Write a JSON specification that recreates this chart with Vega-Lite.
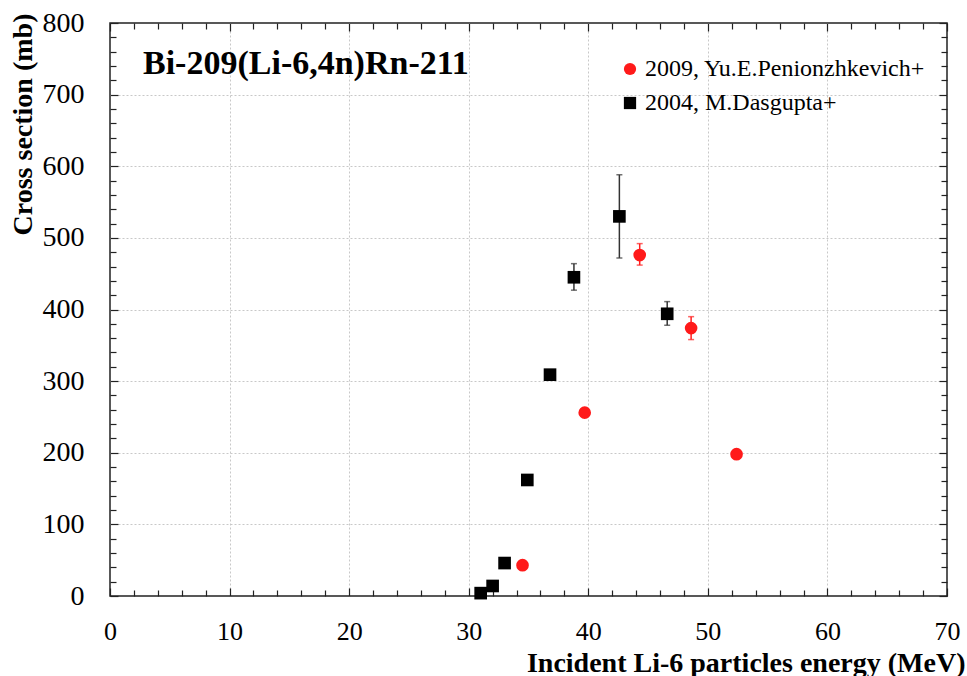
{
  "$schema": "https://vega.github.io/schema/vega-lite/v6.json",
  "width": 837,
  "height": 573,
  "autosize": {"type": "none"},
  "padding": {"left": 110, "top": 23, "right": 20, "bottom": 80},
  "background": "white",
  "config": {
    "view": {"stroke": "#222", "strokeWidth": 1.5},
    "font": "Liberation Serif",
    "axis": {"labelFont": "Liberation Serif", "titleFont": "Liberation Serif", "labelColor": "black", "titleColor": "black", "domain": false, "tickColor": "#222", "tickWidth": 1.2}
  },
  "title": {"text": "Bi-209(Li-6,4n)Rn-211", "orient": "top", "anchor": "start", "frame": "group", "offset": -99, "baseline": "alphabetic", "dx": 33, "font": "Liberation Serif", "fontSize": 34, "fontWeight": "bold", "color": "black"},
  "data": {
    "values": [
      {"series": "2009, Yu.E.Penionzhkevich+", "energy": 34.5, "xs": 43, "lo": null, "hi": null},
      {"series": "2009, Yu.E.Penionzhkevich+", "energy": 39.7, "xs": 256, "lo": null, "hi": null},
      {"series": "2009, Yu.E.Penionzhkevich+", "energy": 44.3, "xs": 476, "lo": 462, "hi": 492},
      {"series": "2009, Yu.E.Penionzhkevich+", "energy": 48.6, "xs": 374, "lo": 358, "hi": 390},
      {"series": "2009, Yu.E.Penionzhkevich+", "energy": 52.4, "xs": 198, "lo": null, "hi": null},
      {"series": "2004, M.Dasgupta+", "energy": 31.0, "xs": 4, "lo": null, "hi": null},
      {"series": "2004, M.Dasgupta+", "energy": 32.0, "xs": 14, "lo": null, "hi": null},
      {"series": "2004, M.Dasgupta+", "energy": 33.0, "xs": 46, "lo": null, "hi": null},
      {"series": "2004, M.Dasgupta+", "energy": 34.9, "xs": 162, "lo": null, "hi": null},
      {"series": "2004, M.Dasgupta+", "energy": 36.8, "xs": 309, "lo": null, "hi": null},
      {"series": "2004, M.Dasgupta+", "energy": 38.8, "xs": 445, "lo": 427, "hi": 464},
      {"series": "2004, M.Dasgupta+", "energy": 42.6, "xs": 530, "lo": 472, "hi": 588},
      {"series": "2004, M.Dasgupta+", "energy": 46.6, "xs": 394, "lo": 378, "hi": 411}
    ]
  },
  "layer": [
    {
      "transform": [{"filter": "isValid(datum.lo)"}],
      "mark": {"type": "rule", "strokeWidth": 1.5},
      "encoding": {
        "x": {"field": "energy", "type": "quantitative", "scale": {"domain": [0, 70], "nice": false},
          "axis": {"orient": "top", "title": null, "labels": false, "grid": false,
            "values": [0,2,4,6,8,10,12,14,16,18,20,22,24,26,28,30,32,34,36,38,40,42,44,46,48,50,52,54,56,58,60,62,64,66,68,70],
            "tickSize": {"condition": {"test": "datum.value % 10 === 0", "value": -8}, "value": -6}}},
        "y": {"field": "lo", "type": "quantitative", "scale": {"domain": [0, 800], "nice": false},
          "axis": {"orient": "right", "title": null, "labels": false, "grid": false,
            "values": [0,20,40,60,80,100,120,140,160,180,200,220,240,260,280,300,320,340,360,380,400,420,440,460,480,500,520,540,560,580,600,620,640,660,680,700,720,740,760,780,800],
            "tickSize": {"condition": {"test": "datum.value % 100 === 0", "value": -8}, "value": -6}}},
        "y2": {"field": "hi"},
        "color": {"condition": {"test": "datum.series === '2009, Yu.E.Penionzhkevich+'", "value": "#ff2020"}, "value": "#333333"}
      }
    },
    {
      "transform": [{"filter": "isValid(datum.lo)"}],
      "mark": {"type": "tick", "orient": "horizontal", "size": 6, "thickness": 1.5},
      "encoding": {
        "x": {"field": "energy", "type": "quantitative",
          "axis": {"orient": "bottom", "title": null, "labels": false, "ticks": false, "domain": false, "grid": true,
            "values": [10, 20, 30, 40, 50, 60], "gridColor": "#c8c8c8", "gridDash": [2, 2], "gridWidth": 1}},
        "y": {"field": "lo", "type": "quantitative",
          "axis": {"orient": "left", "title": null, "labels": false, "ticks": false, "domain": false, "grid": true,
            "values": [100, 200, 300, 400, 500, 600, 700], "gridColor": "#c8c8c8", "gridDash": [2, 2], "gridWidth": 1}},
        "color": {"condition": {"test": "datum.series === '2009, Yu.E.Penionzhkevich+'", "value": "#ff2020"}, "value": "#333333"}
      }
    },
    {
      "transform": [{"filter": "isValid(datum.hi)"}],
      "mark": {"type": "tick", "orient": "horizontal", "size": 6, "thickness": 1.5},
      "encoding": {
        "x": {"field": "energy", "type": "quantitative", "axis": null},
        "y": {"field": "hi", "type": "quantitative", "axis": null},
        "color": {"condition": {"test": "datum.series === '2009, Yu.E.Penionzhkevich+'", "value": "#ff2020"}, "value": "#333333"}
      }
    },
    {
      "mark": {"type": "point", "filled": true, "opacity": 1, "size": 160, "strokeWidth": 0},
      "encoding": {
        "x": {"field": "energy", "type": "quantitative",
          "axis": {"orient": "bottom", "title": "Incident Li-6 particles energy (MeV)",
            "values": [0,2,4,6,8,10,12,14,16,18,20,22,24,26,28,30,32,34,36,38,40,42,44,46,48,50,52,54,56,58,60,62,64,66,68,70],
            "labelExpr": "datum.value % 10 === 0 ? datum.label : ''",
            "labelFontSize": 26, "labelPadding": 30, "labelBound": false, "labelOverlap": false, "labelFlush": false,
            "tickSize": {"condition": {"test": "datum.value % 10 === 0", "value": -8}, "value": -6},
            "grid": false,
            "titleFontSize": 28, "titleFontWeight": "bold", "titleAlign": "right", "titleAnchor": "end", "titleBaseline": "alphabetic", "titleX": 855, "titleY": 75}},
        "y": {"field": "xs", "type": "quantitative",
          "axis": {"orient": "left", "title": "Cross section (mb)",
            "values": [0,20,40,60,80,100,120,140,160,180,200,220,240,260,280,300,320,340,360,380,400,420,440,460,480,500,520,540,560,580,600,620,640,660,680,700,720,740,760,780,800],
            "labelExpr": "datum.value % 100 === 0 ? datum.label : ''",
            "labelFontSize": 28, "labelPadding": 34, "labelBound": false, "labelOverlap": false, "labelFlush": false,
            "tickSize": {"condition": {"test": "datum.value % 100 === 0", "value": -8}, "value": -6},
            "grid": false,
            "titleFontSize": 28, "titleFontWeight": "bold", "titleAngle": -90, "titleAlign": "center", "titleBaseline": "middle", "titleX": -87, "titleY": 101}},
        "color": {"field": "series", "type": "nominal",
          "scale": {"domain": ["2009, Yu.E.Penionzhkevich+", "2004, M.Dasgupta+"], "range": ["#ff1a1a", "#000000"]},
          "legend": {"title": null, "orient": "none", "legendX": 508, "legendY": 34, "padding": 0, "labelFont": "Liberation Serif", "labelFontSize": 24, "labelColor": "black", "labelLimit": 500, "labelOffset": 3, "rowPadding": 10, "symbolSize": 150, "symbolStrokeWidth": 0}},
        "shape": {"field": "series", "type": "nominal",
          "scale": {"domain": ["2009, Yu.E.Penionzhkevich+", "2004, M.Dasgupta+"], "range": ["circle", "square"]},
          "legend": {"title": null, "orient": "none", "legendX": 508, "legendY": 34, "padding": 0, "labelFont": "Liberation Serif", "labelFontSize": 24, "labelColor": "black", "labelLimit": 500, "labelOffset": 3, "rowPadding": 10, "symbolSize": 150, "symbolStrokeWidth": 0}}
      }
    }
  ],
  "resolve": {"axis": {"x": "independent", "y": "independent"}}
}
